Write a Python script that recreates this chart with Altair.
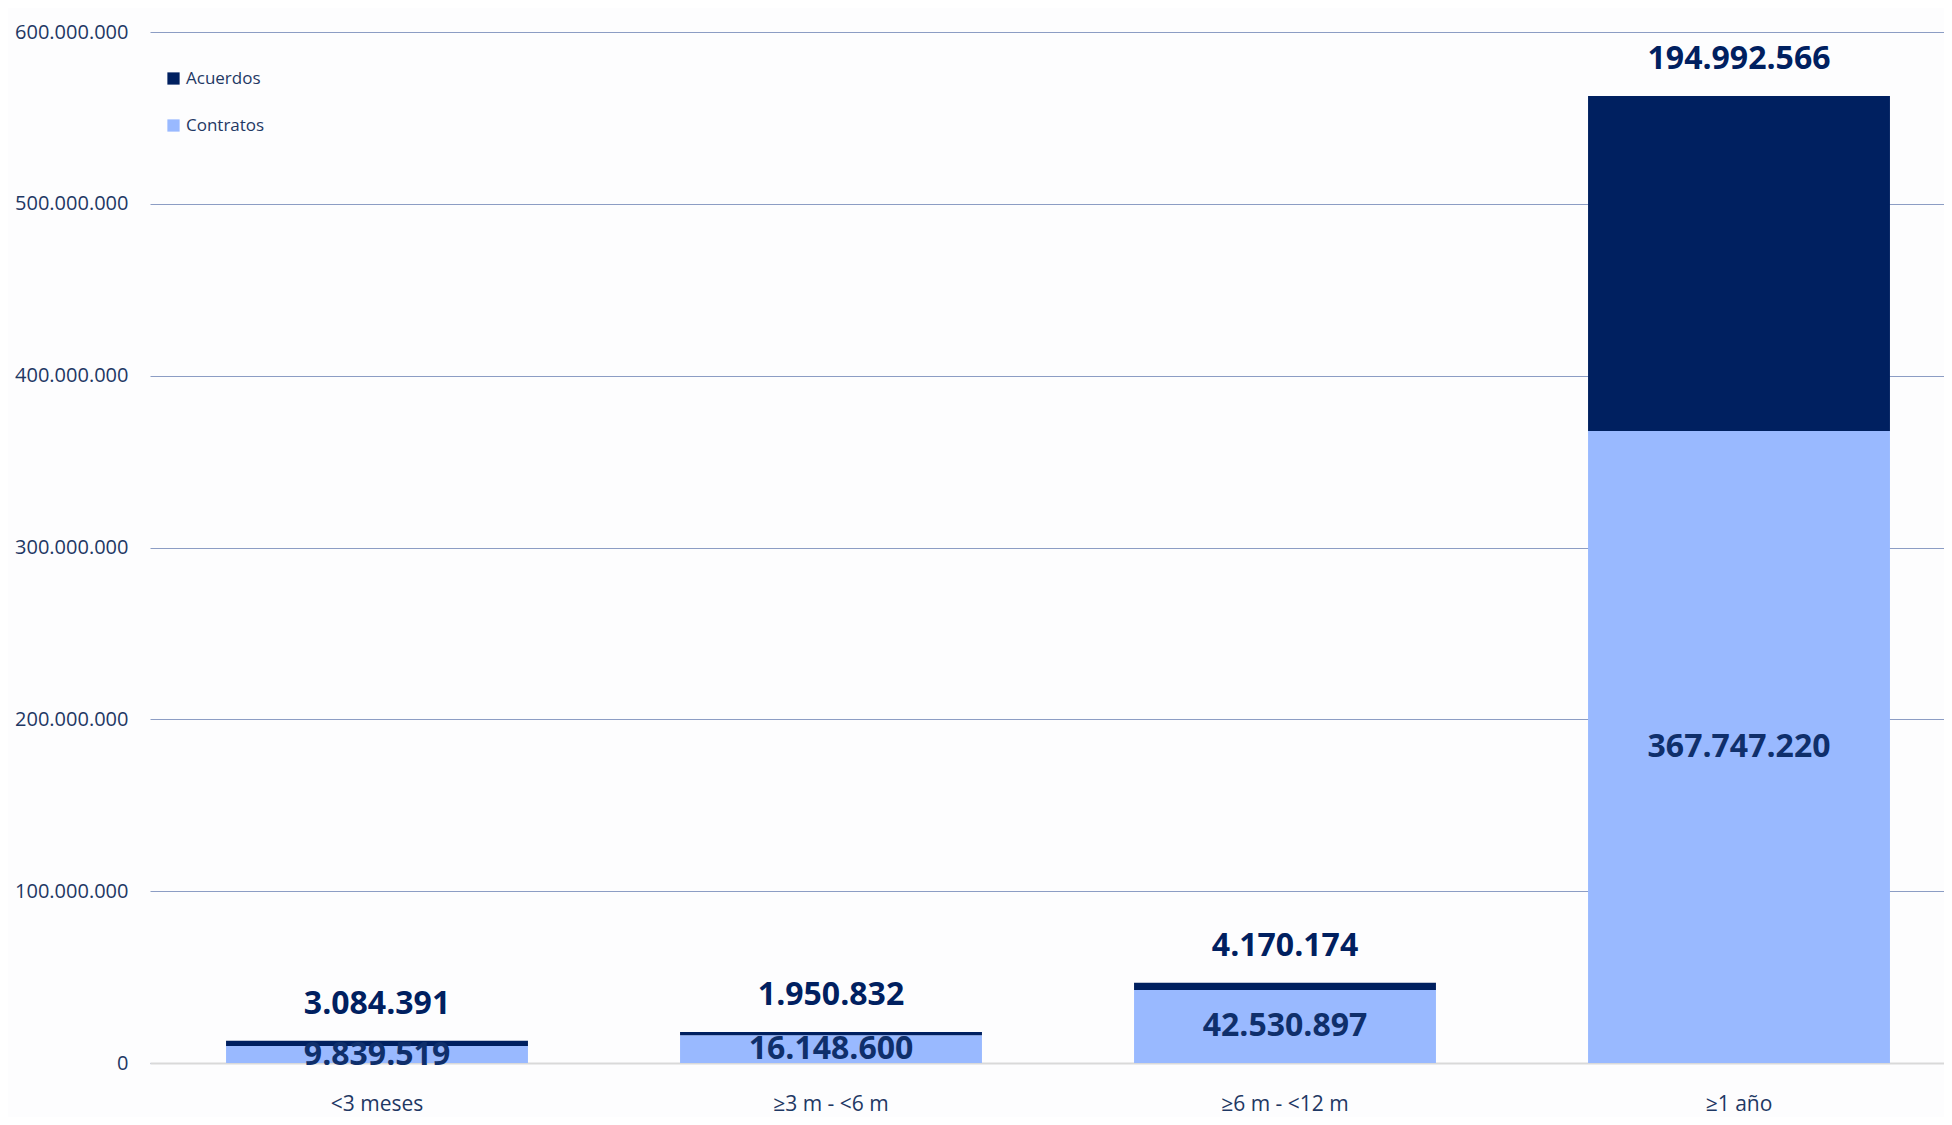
import altair as alt
import pandas as pd

categorias = ["<3 meses", "≥3 m - <6 m", "≥6 m - <12 m", "≥1 año"]
contratos = [9839519, 16148600, 42530897, 367747220]
acuerdos = [3084391, 1950832, 4170174, 194992566]
series = ["Acuerdos", "Contratos"]
colores = ["#002060", "#99B9FF"]
y_ticks = [0, 100000000, 200000000, 300000000, 400000000, 500000000, 600000000]


def fmt(v):
    return f"{v:,}".replace(",", ".")


rows = []
for c, vc, va in zip(categorias, contratos, acuerdos):
    rows.append({"cat": c, "serie": "Contratos", "valor": vc, "ord": 0,
                 "base": 0, "total": vc + va, "txt": fmt(vc)})
    rows.append({"cat": c, "serie": "Acuerdos", "valor": va, "ord": 1,
                 "base": vc, "total": vc + va, "txt": fmt(va)})
df = pd.DataFrame(rows)

FONT = "Open Sans"
PLOT_W = 1794
PLOT_H = 1031

x_scale = alt.Scale(paddingInner=0.335, paddingOuter=0.1675, range=[0, 1816])
x_enc = alt.X("cat:N", sort=categorias, title=None, scale=x_scale,
              axis=alt.Axis(labelAngle=0, labelFontSize=21, labelColor="#1F3864",
                            labelFont=FONT, labelPadding=30, ticks=False,
                            domainColor="#D9D9D9", domainWidth=2, grid=False))
y_scale = alt.Scale(domain=[0, 600000000], nice=False)

bars = alt.Chart(df).mark_bar().encode(
    x=x_enc,
    y=alt.Y("valor:Q", stack="zero", scale=y_scale, title=None,
            axis=alt.Axis(values=y_ticks, labelFontSize=20, labelColor="#1F3864",
                          labelFont=FONT, labelPadding=22, ticks=False, domain=False,
                          gridColor="#8C9DC4", gridWidth=1,
                          labelExpr="replace(format(datum.value, ','), /,/g, '.')")),
    color=alt.Color("serie:N", scale=alt.Scale(domain=series, range=colores),
                    legend=alt.Legend(title=None, orient="none", legendX=15, legendY=38,
                                      symbolType="square", symbolSize=150,
                                      symbolStrokeWidth=0, labelFontSize=17,
                                      labelFont=FONT, labelColor="#1F3864",
                                      rowPadding=29, labelOffset=4)),
    order=alt.Order("ord:Q"),
)

lab_contratos = alt.Chart(df).transform_filter(
    alt.datum.serie == "Contratos"
).transform_calculate(mid="datum.valor / 2").mark_text(
    font=FONT, fontWeight="bold", fontSize=32, color="#0F2F6B", baseline="middle"
).encode(x=alt.X("cat:N", sort=categorias, scale=x_scale),
         y=alt.Y("mid:Q", scale=y_scale), text="txt:N")

lab_acuerdos = alt.Chart(df).transform_filter(
    alt.datum.serie == "Acuerdos"
).mark_text(
    font=FONT, fontWeight="bold", fontSize=32, color="#002060", baseline="middle", dy=-37
).encode(x=alt.X("cat:N", sort=categorias, scale=x_scale),
         y=alt.Y("total:Q", scale=y_scale), text="txt:N")

chart = alt.layer(bars, lab_contratos, lab_acuerdos).properties(
    width=PLOT_W, height=PLOT_H,
    autosize=alt.AutoSizeParams(type="none"),
    padding={"left": 142, "top": 24, "right": 0, "bottom": 54},
    background="#FDFDFE",
).configure_view(stroke=None)

chart.save("out.html", embed_options={"renderer": "svg", "actions": False})
